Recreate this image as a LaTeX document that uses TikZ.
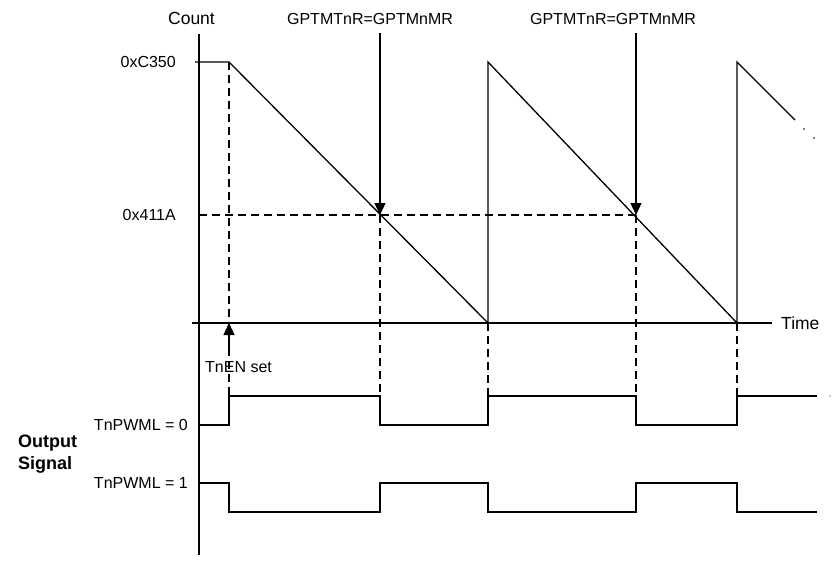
\documentclass[tikz,border=0pt]{standalone}
\usepackage{fontspec}
\setmainfont{Liberation Sans}
\usetikzlibrary{arrows.meta}
\begin{document}
\begin{tikzpicture}[x=1pt,y=-1pt,
  lbl/.style={inner sep=0pt,font=\fontsize{16}{19}\selectfont},
  axlbl/.style={inner sep=0pt,font=\fontsize{17.5}{20}\selectfont},
  blbl/.style={inner sep=0pt,font=\fontsize{18}{22}\selectfont\bfseries,align=left},
  ln/.style={line width=1.3pt},
  dsh/.style={line width=1.2pt,dash pattern=on 8pt off 5pt},
  arr/.style={line width=1.3pt,-{Triangle[length=12pt,width=11pt]}}]
\useasboundingbox (0,0) rectangle (837,567);
% axes
\coordinate (ytop) at (199,34);
\coordinate (ybot) at (199,555);
\coordinate (xl) at (192,323);
\coordinate (xr) at (772,323);
\draw[ln] (ytop) -- (ybot);
\draw[ln] (xl) -- (xr);
\node[axlbl] (count) at (191.5,18) {Count};
\node[axlbl,anchor=west] (time) at (781,323) {Time};
\node[lbl,anchor=east] (c350) at (176,62) {0xC350};
\node[lbl,anchor=east] (x411a) at (176,215) {0x411A};
% counter waveform
\coordinate (t0) at (195,62);
\coordinate (en) at (229,62);
\coordinate (z1) at (488,323);
\coordinate (p1) at (488,62);
\coordinate (z2) at (737,323);
\coordinate (p2) at (737,62);
\coordinate (e3) at (795,120);
\draw[ln] (t0) -- (en) -- (z1) -- (p1) -- (z2) -- (p2) -- (e3);
\fill (804,129) circle (0.8pt);
\fill (814,138) circle (0.8pt);
% match level
\coordinate (m0) at (199,215);
\coordinate (m1) at (380,215);
\coordinate (m2) at (636,215);
\draw[dsh] (m0) -- (m2);
% match arrows
\node[lbl] (lab1) at (370,19) {GPTMTnR=GPTMnMR};
\node[lbl] (lab2) at (613,19) {GPTMTnR=GPTMnMR};
\coordinate (a1) at (380,33);
\coordinate (a2) at (636,33);
\draw[arr] (a1) -- (m1);
\draw[arr] (a2) -- (m2);
% dashed verticals
\coordinate (d0) at (229,396);
\coordinate (d1) at (380,396);
\coordinate (d2) at (488,396);
\coordinate (d3) at (636,396);
\coordinate (d4) at (737,396);
\draw[dsh] (en) -- (d0);
\draw[dsh] (m1) -- (d1);
\draw[dsh] (z1) -- (d2);
\draw[dsh] (m2) -- (d3);
\draw[dsh] (z2) -- (d4);
% TnEN set
\coordinate (ens) at (229,350);
\coordinate (ena) at (229,323);
\draw[arr] (ens) -- (ena);
\node[lbl,anchor=west] (tnen) at (205,367) {TnEN set};
% output signals
\node[blbl,anchor=west] (out) at (18,454) {Output\\Signal};
\node[lbl,anchor=east] (pw0) at (188,425) {TnPWML = 0};
\node[lbl,anchor=east] (pw1) at (188,483) {TnPWML = 1};
\draw[ln] (199,425) -- (229,425) -- (229,396) -- (380,396) -- (380,425) -- (488,425)
  -- (488,396) -- (636,396) -- (636,425) -- (737,425) -- (737,396) -- (817,396);
\fill (830,396) circle (0.7pt);
\draw[ln] (199,483) -- (229,483) -- (229,512) -- (380,512) -- (380,483) -- (488,483)
  -- (488,512) -- (636,512) -- (636,483) -- (737,483) -- (737,512) -- (817,512);
\end{tikzpicture}
\end{document}
